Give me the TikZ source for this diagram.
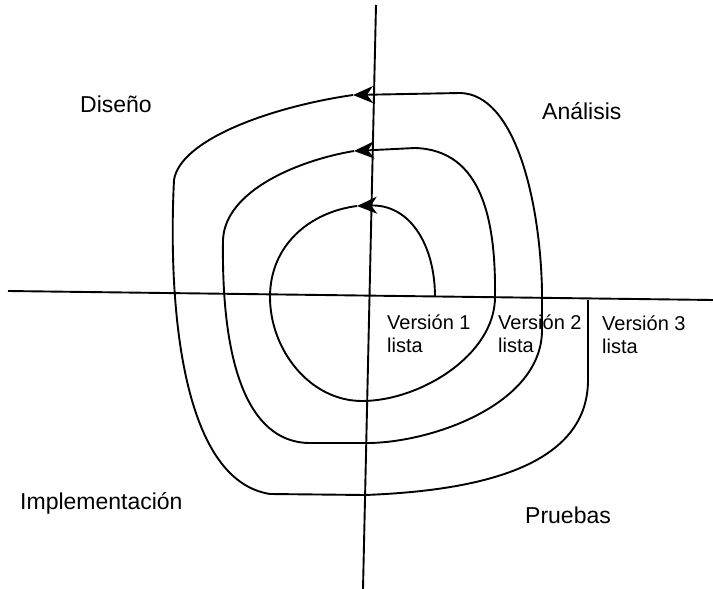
\documentclass[tikz,border=0pt]{standalone}
\usepackage{fontspec}
\setmainfont{Liberation Sans}
\usetikzlibrary{arrows.meta}
\begin{document}
\begin{tikzpicture}[x=1pt,y=-1pt,
  axis/.style={line width=1.9pt},
  spiral/.style={line width=1.9pt, line join=round},
  tip/.style={-{Stealth[length=20pt,width=17pt,inset=6pt]}},
  phase/.style={anchor=west,inner sep=0pt,font=\fontsize{23}{27}\selectfont},
  ver/.style={anchor=west,inner sep=0pt,align=left,font=\fontsize{20}{23}\selectfont}]
\useasboundingbox[fill=white] (0,0) rectangle (713,589);
% axes
\coordinate (vt) at (376,5);
\coordinate (vb) at (363,589);
\coordinate (hl) at (8,291);
\coordinate (hr) at (713,300);
\draw[axis] (vt) -- (vb);
\draw[axis] (hl) -- (hr);
% arrow points
\coordinate (s0) at (435,297);
\coordinate (a1) at (357,206);
\coordinate (a2) at (354,151);
\coordinate (a3) at (353,95);
\coordinate (e) at (588,300);
% spiral
\draw[spiral,tip] (s0) .. controls (435,245) and (410,204) .. (a1);
\draw[spiral,tip] (a1) .. controls (310,212) and (270,245) .. (270,297)
  .. controls (270,350) and (310,401) .. (362,401)
  .. controls (420,401) and (495,355) .. (495,297)
  .. controls (496,220) and (482,150) .. (415,148) -- (a2);
\draw[spiral,tip] (a2) .. controls (300,160) and (225,190) .. (223,240)
  .. controls (221,380) and (255,443) .. (310,443) -- (367,443)
  .. controls (430,443) and (542,405) .. (542,330) -- (542,290)
  .. controls (540,200) and (515,94) .. (460,93) -- (a3);
\draw[spiral] (a3) .. controls (270,107) and (180,140) .. (174,180)
  .. controls (168,300) and (180,480) .. (270,494) -- (365,495)
  .. controls (470,491) and (588,470) .. (588,380) -- (e);
% labels
\node[phase] (dis) at (80,104) {Diseño};
\node[phase] (ana) at (542,111) {Análisis};
\node[phase] (imp) at (20,503) {Implementación};
\node[phase] (pru) at (525,515) {Pruebas};
\node[ver] (v1) at (387,334) {Versión 1\\lista};
\node[ver] (v2) at (498,334) {Versión 2\\lista};
\node[ver] (v3) at (602,335) {Versión 3\\lista};
\end{tikzpicture}
\end{document}
